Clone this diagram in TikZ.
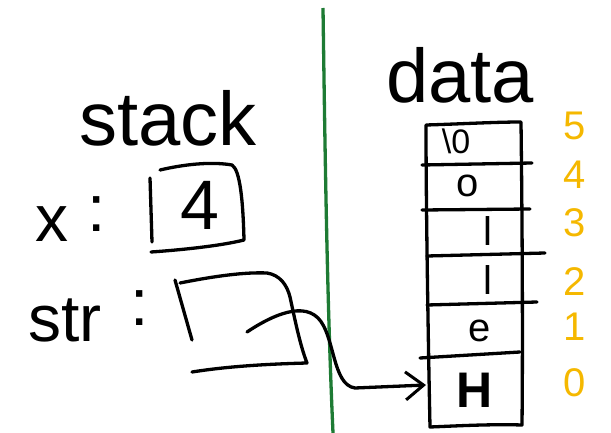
\documentclass[tikz,border=0pt]{standalone}
\usepackage{fontspec}
\setmainfont{Liberation Sans}
\usetikzlibrary{arrows.meta}
\definecolor{divgreen}{HTML}{1E7B34}
\definecolor{idxorange}{HTML}{F5B800}
\begin{document}
\begin{tikzpicture}[x=1pt,y=-1pt,
  ink/.style={line width=3.3pt, line cap=round, line join=round, draw=black},
  big/.style={inner sep=0pt, font=\fontsize{76}{80}\selectfont},
  mid/.style={inner sep=0pt, font=\fontsize{66}{68}\selectfont},
  cellchar/.style={inner sep=0pt, font=\fontsize{40}{42}\selectfont},
  idx/.style={inner sep=0pt, text=idxorange, font=\fontsize{40}{42}\selectfont}]
\useasboundingbox (0,0) rectangle (611,433);
% divider line
\draw[line width=3.3pt, divgreen] (323,8) .. controls (325,150) and (327,300) .. (333,433);
% labels
\node[big] (stacklbl) at (168,118) {stack};
\node[big] (datalbl) at (460,75) {data};
\node[mid] (xlbl) at (52,224) {x};
\node[mid] (xcolon) at (97,214) {:};
\node[mid] (strlbl) at (65,320) {str};
\node[mid] (strcolon) at (140,308) {:};
% x box
\draw[ink] (150,178) -- (152,242);
\draw[ink] (160,170) .. controls (190,163) and (215,162) .. (232,165) .. controls (240,170) and (243,200) .. (244,240) .. controls (220,246) and (180,250) .. (151,252);
\node[mid, font=\fontsize{70}{72}\selectfont] (xval) at (200,205) {4};
% str box
\draw[ink] (175,280) -- (192,340);
\draw[ink] (180,283) .. controls (215,276) and (245,272) .. (267,273) .. controls (280,275) and (287,285) .. (290,297) .. controls (295,320) and (300,345) .. (307,363) .. controls (270,364) and (230,366) .. (192,372);
\coordinate (ptr) at (247,332);
% data array
\draw[ink] (426,125) .. controls (460,124) and (495,122) .. (521,122) .. controls (522,200) and (523,330) .. (522,425) .. controls (490,424) and (455,426) .. (430,427) .. controls (428,330) and (426,200) .. (426,125);
\draw[ink] (422,165) -- (532,163);
\draw[ink] (422,210) -- (530,209);
\draw[ink] (427,256) -- (545,253);
\draw[ink] (427,305) -- (537,302);
\draw[ink] (420,358) -- (520,352);
\node[cellchar, font=\fontsize{34}{36}\selectfont] (c5) at (456,141) {\textbackslash 0};
\node[cellchar] (c4) at (468,186) {o};
\node[cellchar] (c3) at (488,231) {l};
\node[cellchar] (c2) at (488,280) {l};
\node[cellchar] (c1) at (480,331) {e};
\node[cellchar, font=\fontsize{50}{52}\selectfont\bfseries] (c0) at (475,390) {H};
% indices
\node[idx] (i5) at (575,126) {5};
\node[idx] (i4) at (575,175) {4};
\node[idx] (i3) at (575,223) {3};
\node[idx] (i2) at (575,282) {2};
\node[idx] (i1) at (575,327) {1};
\node[idx] (i0) at (575,383) {0};
% pointer
\coordinate (tgt) at (426,385);
\draw[ink, -{Straight Barb[length=18pt,width=28pt,line width=3pt]}] (ptr) .. controls (265,320) and (300,300) .. (318,318) .. controls (335,335) and (332,385) .. (355,388) -- (tgt);
\end{tikzpicture}
\end{document}
